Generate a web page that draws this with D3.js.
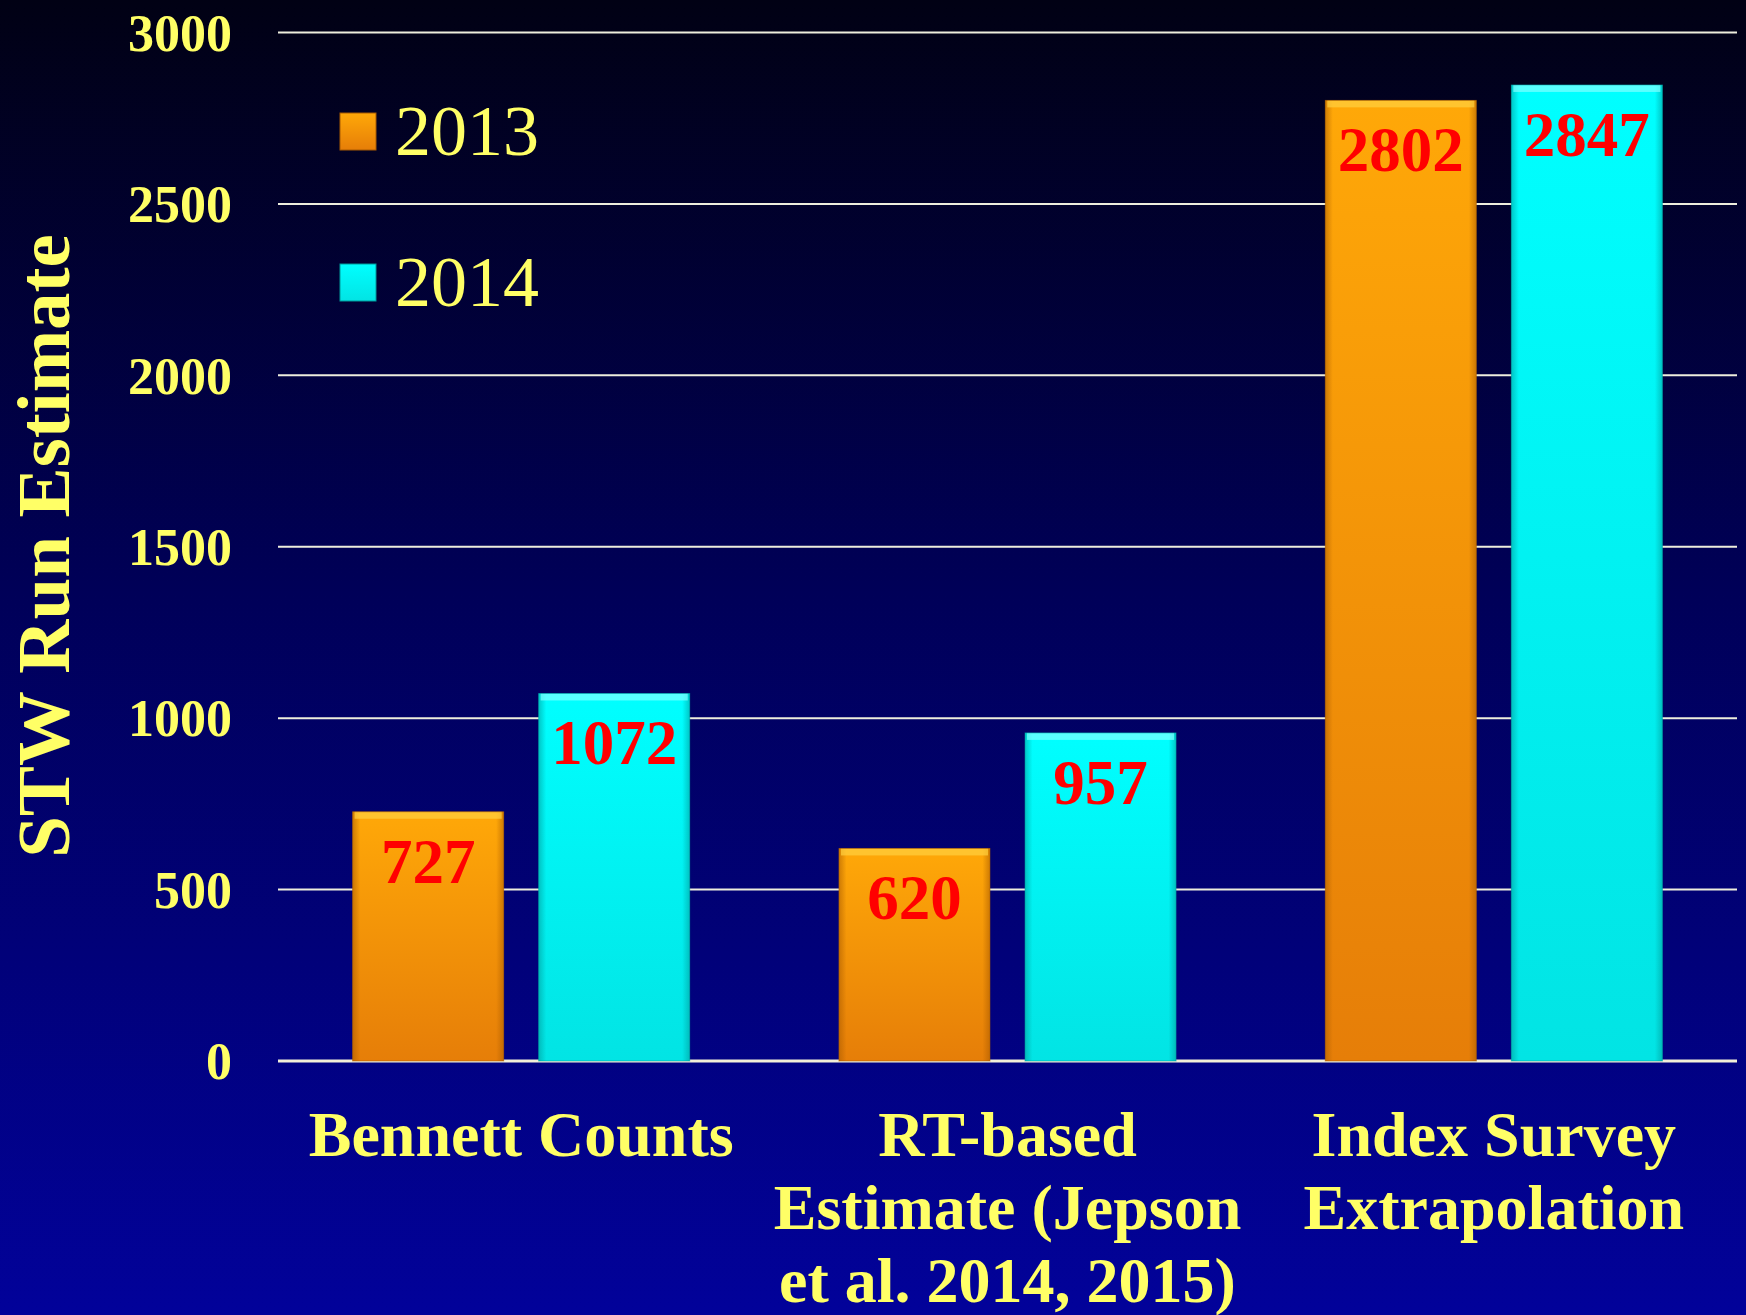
<!DOCTYPE html>
<html><head><meta charset="utf-8">
<script src="https://cdn.jsdelivr.net/npm/d3@7"></script>
<style>html,body{margin:0;padding:0;background:#000030;}svg{display:block;}</style>
</head><body>
<script>
const categories = [["Bennett Counts"], ["RT-based", "Estimate (Jepson", "et al. 2014, 2015)"], ["Index Survey", "Extrapolation"]];
const seriesNames = ["2013", "2014"];
const values2013 = [727, 620, 2802];
const values2014 = [1072, 957, 2847];
const yTicks = [0, 500, 1000, 1500, 2000, 2500, 3000];

const W = 1746, H = 1315;
const margin = {left: 278, right: 9, top: 32, bottom: 254};
const svg = d3.select("body").append("svg").attr("width", W).attr("height", H);
const defs = svg.append("defs");

const bg = defs.append("linearGradient").attr("id","bg").attr("x1",0).attr("y1",0).attr("x2",0).attr("y2",1);
bg.append("stop").attr("offset","0").attr("stop-color","#010114");
bg.append("stop").attr("offset","0.45").attr("stop-color","#000058");
bg.append("stop").attr("offset","1").attr("stop-color","#02029a");
svg.append("rect").attr("width",W).attr("height",H).attr("fill","url(#bg)");

const colors = {
  "2013": {top:"#ffa808", bot:"#e67e08", edge:"#a85a00"},
  "2014": {top:"#00ffff", bot:"#02e4e4", edge:"#009a9a"}
};
seriesNames.forEach(s => {
  const g = defs.append("linearGradient").attr("id","g"+s).attr("x1",0).attr("y1",0).attr("x2",0).attr("y2",1);
  g.append("stop").attr("offset","0").attr("stop-color",colors[s].top);
  g.append("stop").attr("offset","1").attr("stop-color",colors[s].bot);
  const h = defs.append("linearGradient").attr("id","h"+s).attr("x1",0).attr("y1",0).attr("x2",1).attr("y2",0);
  h.append("stop").attr("offset","0").attr("stop-color",colors[s].edge).attr("stop-opacity",0.55);
  h.append("stop").attr("offset","0.05").attr("stop-color",colors[s].edge).attr("stop-opacity",0);
  h.append("stop").attr("offset","0.95").attr("stop-color",colors[s].edge).attr("stop-opacity",0);
  h.append("stop").attr("offset","1").attr("stop-color",colors[s].edge).attr("stop-opacity",0.55);
});

const x0 = d3.scaleBand().domain(d3.range(categories.length)).range([margin.left, W - margin.right]).padding(0);
const x1 = d3.scaleBand().domain(seriesNames).range([0, x0.bandwidth()]).paddingInner(0.188).paddingOuter(0.401);
const y = d3.scaleLinear().domain([0, 3000]).range([1061, 32.5]);

// gridlines
svg.append("g").selectAll("line").data(yTicks).join("line")
  .attr("x1", margin.left).attr("x2", W - margin.right)
  .attr("y1", d => y(d)).attr("y2", d => y(d))
  .attr("stroke", d => d === 0 ? "#f2efd8" : "#eeeedd")
  .attr("stroke-width", d => d === 0 ? 3 : 2);

// y tick labels
svg.append("g").selectAll("text").data(yTicks).join("text")
  .attr("x", 232).attr("y", d => y(d)).attr("dy", "0.35em")
  .attr("text-anchor", "end")
  .attr("font-family", "Liberation Serif, Times New Roman, serif")
  .attr("font-weight", "bold").attr("font-size", 52).attr("fill", "#ffff66")
  .text(d => d);

// y title
svg.append("text")
  .attr("transform", `translate(69,${546}) rotate(-90)`)
  .attr("text-anchor", "middle")
  .attr("font-family", "Liberation Serif, Times New Roman, serif")
  .attr("font-weight", "bold").attr("font-size", 75).attr("fill", "#ffff66")
  .text("STW Run Estimate");

// bars
const data = [];
categories.forEach((c, i) => {
  data.push({cat: i, s: "2013", v: values2013[i]});
  data.push({cat: i, s: "2014", v: values2014[i]});
});
const bars = svg.append("g").selectAll("g").data(data).join("g")
  .attr("transform", d => `translate(${x0(d.cat) + x1(d.s)},0)`);
bars.append("rect").attr("x",0).attr("y", d => y(d.v)).attr("width", x1.bandwidth())
  .attr("height", d => y(0) - y(d.v)).attr("fill", d => `url(#g${d.s})`);
bars.append("rect").attr("x",0).attr("y", d => y(d.v)).attr("width", x1.bandwidth())
  .attr("height", d => y(0) - y(d.v)).attr("fill", d => `url(#h${d.s})`);
bars.append("rect").attr("x",2).attr("y", d => y(d.v)).attr("width", x1.bandwidth()-4)
  .attr("height", 7).attr("fill", d => d.s === "2013" ? "#ffd040" : "#80ffff").attr("opacity",0.7);
bars.append("rect").attr("x",0).attr("y", d => y(d.v)).attr("width", x1.bandwidth())
  .attr("height", d => y(0) - y(d.v)).attr("fill","none")
  .attr("stroke", d => colors[d.s].edge).attr("stroke-opacity",0.5).attr("stroke-width",1);
bars.append("text").attr("x", x1.bandwidth()/2).attr("y", d => y(d.v) + 71)
  .attr("text-anchor","middle")
  .attr("font-family", "Liberation Serif, Times New Roman, serif")
  .attr("font-weight","bold").attr("font-size",63).attr("fill","#ff0000")
  .text(d => d.v);

// category labels
const cl = svg.append("g").selectAll("text").data(categories).join("text")
  .attr("text-anchor","middle")
  .attr("font-family", "Liberation Serif, Times New Roman, serif")
  .attr("font-weight","bold").attr("font-size",64).attr("fill","#ffff66");
cl.selectAll("tspan").data((d, i) => d.map(t => ({t, i}))).join("tspan")
  .attr("x", d => x0(d.i) + x0.bandwidth()/2)
  .attr("y", (d, j) => 1156 + j * 73)
  .text(d => d.t);

// legend
const leg = svg.append("g").selectAll("g").data(seriesNames).join("g")
  .attr("transform", (d, i) => `translate(340,${113 + i * 151})`);
leg.append("rect").attr("width",36).attr("height",37).attr("fill", d => `url(#g${d})`)
  .attr("stroke", d => colors[d].edge).attr("stroke-width",1);
leg.append("text").attr("x",55).attr("y",42)
  .attr("font-family", "Liberation Serif, Times New Roman, serif")
  .attr("font-size",72).attr("fill","#ffff66").text(d => d);
</script>
</body></html>
